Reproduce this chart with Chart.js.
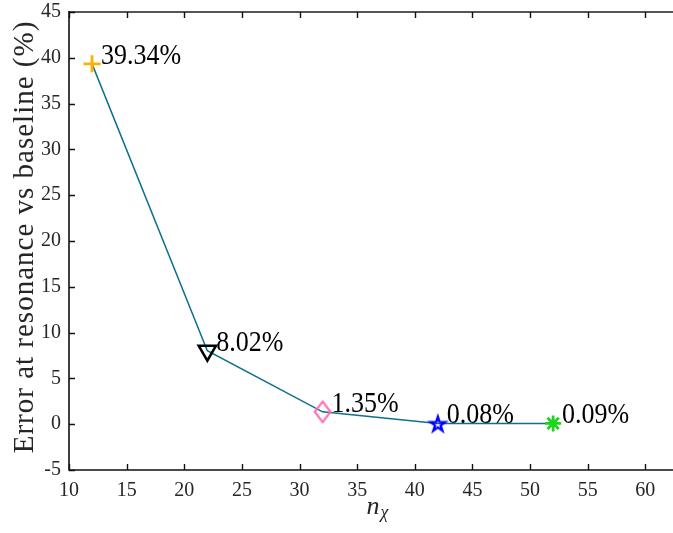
<!DOCTYPE html>
<html>
<head>
<meta charset="utf-8">
<script src="https://cdn.jsdelivr.net/npm/chart.js@4.4.0/dist/chart.umd.min.js"></script>
<style>
  html, body { margin: 0; padding: 0; background: #ffffff; }
  canvas { display: block; }
</style>
</head>
<body>
<canvas id="c" width="673" height="533"></canvas>
<script>
// Number of chi grid points vs. error at resonance relative to the baseline run
const nChi = [12, 22, 32, 42, 52];
const errorPct = [39.34, 8.02, 1.35, 0.08, 0.09];
const xTickValues = [10, 15, 20, 25, 30, 35, 40, 45, 50, 55, 60];
const yTickValues = [-5, 0, 5, 10, 15, 20, 25, 30, 35, 40, 45];
const markerColors = ['#FFB000', '#000000', '#FF6EB4', '#0000FF', '#1ED41E'];

const SERIF = "'Liberation Serif', 'Times New Roman', serif";
const INK = '#262626';

// Small offscreen sprites for marker shapes Chart.js does not ship
function markerCanvas(w, h, draw) {
  const c = document.createElement('canvas');
  c.width = w; c.height = h;
  const g = c.getContext('2d');
  draw(g, w / 2, h / 2);
  return c;
}
const diamondMarker = markerCanvas(26, 30, (g, cx, cy) => {
  g.strokeStyle = markerColors[2];
  g.lineWidth = 2.2;
  g.beginPath();
  g.moveTo(cx, cy - 10.3);
  g.lineTo(cx + 7.8, cy);
  g.lineTo(cx, cy + 10.3);
  g.lineTo(cx - 7.8, cy);
  g.closePath();
  g.stroke();
});
const pentagramMarker = markerCanvas(24, 24, (g, cx, cy) => {
  g.strokeStyle = markerColors[3];
  g.lineWidth = 2.4;
  g.beginPath();
  const R = 7.6, r = R * 0.382;
  for (let i = 0; i < 10; i++) {
    const a = -Math.PI / 2 + i * Math.PI / 5;
    const rr = i % 2 ? r : R;
    const px = cx + rr * Math.cos(a), py = cy + 1 + rr * Math.sin(a);
    if (i) g.lineTo(px, py); else g.moveTo(px, py);
  }
  g.closePath();
  g.stroke();
});

// Axes box, inward tick marks, value labels and axis titles
const decorations = {
  id: 'decorations',
  afterDraw(chart) {
    const { ctx, chartArea: a, scales: { x, y } } = chart;
    ctx.save();
    // box
    ctx.lineCap = 'butt';
    ctx.strokeStyle = '#555555';
    ctx.lineWidth = 2;
    ctx.beginPath();
    ctx.moveTo(a.left, a.top);
    ctx.lineTo(a.right, a.top);
    ctx.stroke();
    ctx.strokeStyle = '#111111';
    ctx.lineWidth = 1.6;
    ctx.beginPath();
    ctx.moveTo(a.left, a.top - 1);
    ctx.lineTo(a.left, a.bottom);
    ctx.lineTo(a.right, a.bottom);
    ctx.stroke();
    // inward ticks
    const tl = 6;
    ctx.lineWidth = 1.4;
    ctx.beginPath();
    xTickValues.forEach(v => {
      const px = Math.round(x.getPixelForValue(v)) + 0.5;
      ctx.moveTo(px, a.bottom); ctx.lineTo(px, a.bottom - tl);
      ctx.moveTo(px, a.top); ctx.lineTo(px, a.top + tl);
    });
    yTickValues.forEach(v => {
      const py = Math.round(y.getPixelForValue(v)) + 0.5;
      ctx.moveTo(a.left, py); ctx.lineTo(a.left + tl, py);
    });
    ctx.stroke();

    // value labels beside each marker (slightly tall lettering)
    const meta = chart.getDatasetMeta(0);
    ctx.fillStyle = '#000000';
    ctx.font = '26px ' + SERIF;
    ctx.textAlign = 'left';
    ctx.textBaseline = 'alphabetic';
    meta.data.forEach((pt, i) => {
      ctx.save();
      ctx.translate(pt.x + 9, pt.y);
      ctx.scale(1, 1.1);
      ctx.fillText(errorPct[i].toFixed(2) + '%', 0, 0);
      ctx.restore();
    });

    // x title: n with subscript chi
    const cx = (a.left + a.right) / 2 + 6;
    ctx.fillStyle = INK;
    ctx.font = 'italic 26px ' + SERIF;
    const nW = ctx.measureText('n').width;
    ctx.font = 'italic 18px ' + SERIF;
    const chiW = ctx.measureText('χ').width;
    const startX = cx - (nW + chiW) / 2;
    ctx.font = 'italic 26px ' + SERIF;
    ctx.fillText('n', startX, 514);
    ctx.font = 'italic 18px ' + SERIF;
    ctx.fillText('χ', startX + nW + 1, 518);

    // y title
    ctx.save();
    ctx.translate(33, (a.top + a.bottom) / 2 - 4);
    ctx.rotate(-Math.PI / 2);
    ctx.font = '29px ' + SERIF;
    ctx.letterSpacing = '1px';
    ctx.textAlign = 'center';
    ctx.textBaseline = 'alphabetic';
    ctx.fillText('Error at resonance vs baseline (%)', 0, 0);
    ctx.restore();

    ctx.restore();
  }
};

new Chart(document.getElementById('c'), {
  type: 'line',
  data: {
    labels: nChi,
    datasets: [{
      data: nChi.map((v, i) => ({ x: v, y: errorPct[i] })),
      borderColor: '#0E6F8E',
      borderWidth: 1.5,
      tension: 0,
      fill: false,
      pointStyle: ['cross', 'triangle', diamondMarker, pentagramMarker, 'star'],
      rotation: [0, 180, 0, 0, 0],
      pointRadius: [8.5, 10, 10, 10, 8],
      pointBorderWidth: [2.8, 2.5, 2.5, 2.5, 2.8],
      pointBorderColor: markerColors,
      pointBackgroundColor: 'rgba(0,0,0,0)'
    }]
  },
  options: {
    responsive: false,
    devicePixelRatio: 1,
    animation: false,
    events: [],
    layout: { autoPadding: false, padding: { top: 12, right: 0, left: 0, bottom: 0 } },
    plugins: { legend: { display: false }, tooltip: { enabled: false } },
    scales: {
      x: {
        type: 'linear',
        min: 10,
        max: 62.4,
        grid: { display: false, drawTicks: false },
        border: { display: false },
        afterBuildTicks: s => { s.ticks = xTickValues.map(v => ({ value: v })); },
        afterFit: s => { s.height = 63; s.paddingLeft = 0; s.paddingRight = 0; },
        ticks: {
          font: { family: SERIF, size: 20 },
          color: INK,
          padding: 9,
          maxRotation: 0,
          autoSkip: false
        }
      },
      y: {
        type: 'linear',
        min: -5,
        max: 45,
        grid: { display: false, drawTicks: false },
        border: { display: false },
        afterBuildTicks: s => { s.ticks = yTickValues.map(v => ({ value: v })); },
        afterFit: s => { s.width = 69; s.paddingTop = 0; s.paddingBottom = 0; },
        ticks: {
          font: { family: SERIF, size: 20 },
          color: INK,
          padding: 8,
          autoSkip: false
        }
      }
    }
  },
  plugins: [decorations]
});
</script>
</body>
</html>
